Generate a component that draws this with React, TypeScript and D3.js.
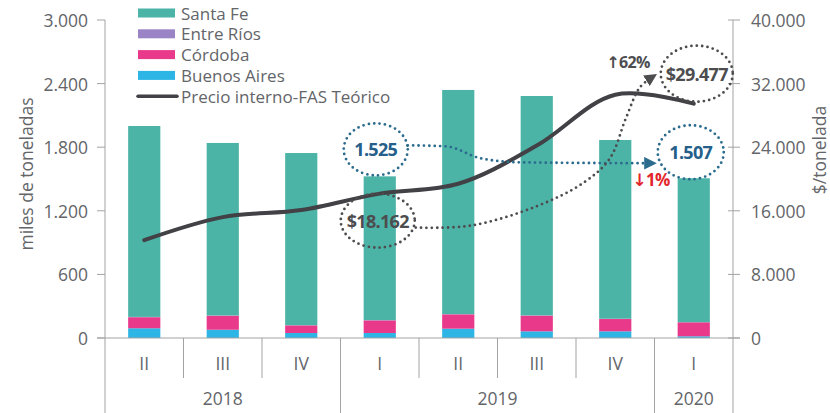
import { line, curveCatmullRom, curveMonotoneX, scaleBand, scaleLinear, stack } from 'd3'

const categories = ['2018-II', '2018-III', '2018-IV', '2019-I', '2019-II', '2019-III', '2019-IV', '2020-I']
const quarterLabels = ['II', 'III', 'IV', 'I', 'II', 'III', 'IV', 'I']
const years = [
	{ label: '2018', from: 0, to: 3 },
	{ label: '2019', from: 3, to: 7 },
	{ label: '2020', from: 7, to: 8 },
]

// miles de toneladas
const buenosAires = [92, 78, 47, 47, 88, 63, 63, 16]
const cordoba = [104, 132, 72, 119, 135, 148, 116, 132]
const entreRios = [3, 3, 2, 3, 3, 3, 3, 2]
const santaFe = [1801, 1627, 1624, 1356, 2114, 2069, 1686, 1357]

// $/tonelada
const precioFas = [12300, 15200, 16100, 18162, 19400, 24200, 30600, 29477]

const leftTicks = [0, 600, 1200, 1800, 2400, 3000]
const rightTicks = [0, 8000, 16000, 24000, 32000, 40000]

const series = [
	{ key: 'buenosAires', name: 'Buenos Aires', color: '#2db5e5' },
	{ key: 'cordoba', name: 'Córdoba', color: '#e8398b' },
	{ key: 'entreRios', name: 'Entre Ríos', color: '#9a84c6' },
	{ key: 'santaFe', name: 'Santa Fe', color: '#4cb4a7' },
]

const fmt = (v: number) => v.toLocaleString('de-DE')
const font = '"Open Sans", "DejaVu Sans", sans-serif'
const textGray = '#636569'
const axisGray = '#a3a3a3'

export default function App() {
	const width = 830
	const height = 413
	const left = 105
	const right = 733
	const top = 20
	const base = 338

	const x = scaleBand<string>().domain(categories).range([left, right]).padding(0)
	const bw = x.bandwidth()
	const barW = bw * 0.41
	const xc = (i: number) => (x(categories[i]) ?? 0) + bw / 2

	const yL = scaleLinear().domain([0, 3000]).range([base, top])
	const yR = scaleLinear().domain([0, 40000]).range([base, top])

	const rows = categories.map((c, i) => ({
		cat: c,
		buenosAires: buenosAires[i],
		cordoba: cordoba[i],
		entreRios: entreRios[i],
		santaFe: santaFe[i],
	}))
	const stacked = stack<any>().keys(series.map((s) => s.key))(rows)

	const priceLine = line<number>()
		.x((_, i) => xc(i))
		.y((d) => yR(d))
		.curve(curveCatmullRom.alpha(0.5))

	// anotaciones
	const totals = rows.map((r) => r.buenosAires + r.cordoba + r.entreRios + r.santaFe)
	const a1 = { cx: xc(3) - 4, cy: yL(totals[3]) - 27, rx: 32, ry: 26 }
	const a2 = { cx: xc(7) - 3, cy: yL(totals[7]) - 26, rx: 33, ry: 27 }
	const p1 = { cx: xc(3) - 2, cy: yR(precioFas[3]) + 27, rx: 37, ry: 27 }
	const p2 = { cx: xc(7) + 3, cy: yR(precioFas[7]) - 30, rx: 36, ry: 28 }

	const blue = '#2a6b8e'
	const gray = '#4d4d4f'

	const curvy = line<[number, number]>().curve(curveMonotoneX)
	const blueArrow = curvy([
		[a1.cx + a1.rx, a1.cy - 4],
		[a1.cx + 70, a1.cy - 3],
		[a1.cx + 105, a1.cy + 9],
		[a1.cx + 145, a1.cy + 13],
		[a2.cx - a2.rx - 6, a2.cy + 11],
	])
	const grayArrow = line<[number, number]>().curve(curveCatmullRom.alpha(0.5))([
		[p1.cx + p1.rx + 1, p1.cy + 7],
		[p1.cx + 93, p1.cy + 5],
		[p1.cx + 158, p1.cy - 14],
		[p1.cx + 206, p1.cy - 38],
		[p1.cx + 232, p1.cy - 62],
		[p1.cx + 248, p1.cy - 102],
		[p1.cx + 262, p1.cy - 133],
		[p2.cx - p2.rx - 8, p2.cy + 3],
	])

	const dotted = {
		fill: 'none',
		strokeWidth: 2.8,
		strokeDasharray: '0 5.4',
		strokeLinecap: 'round' as const,
	}

	const legend = [
		{ name: 'Santa Fe', color: '#4cb4a7' },
		{ name: 'Entre Ríos', color: '#9a84c6' },
		{ name: 'Córdoba', color: '#e8398b' },
		{ name: 'Buenos Aires', color: '#2db5e5' },
	]

	return (
		<svg
			width={width}
			height={height}
			style={{ position: 'absolute', left: 0, top: 0, background: '#fff', fontFamily: font }}
		>
			<defs>
				<marker id='arrBlue' viewBox='0 0 10 10' refX='6' refY='5' markerWidth='4.5' markerHeight='4.5' orient='auto' markerUnits='strokeWidth'>
					<path d='M0,0 L10,5 L0,10 z' fill={blue} />
				</marker>
				<marker id='arrGray' viewBox='0 0 10 10' refX='6' refY='5' markerWidth='4.5' markerHeight='4.5' orient='auto' markerUnits='strokeWidth'>
					<path d='M0,0 L10,5 L0,10 z' fill={gray} />
				</marker>
			</defs>

			{/* Barras apiladas */}
			{stacked.map((layer, li) => (
				<g key={layer.key} fill={series[li].color}>
					{layer.map((d, i) => (
						<rect
							key={i}
							x={xc(i) - barW / 2}
							width={barW}
							y={yL(d[1])}
							height={Math.max(0, yL(d[0]) - yL(d[1]))}
						/>
					))}
				</g>
			))}

			{/* Ejes */}
			<g stroke={axisGray} strokeWidth={1}>
				<line x1={left} x2={left} y1={top} y2={base} />
				<line x1={right} x2={right} y1={top} y2={base} />
				<line x1={left - 8} x2={right + 7} y1={base} y2={base} />
				{leftTicks.map((t) => (
					<line key={t} x1={left - 8} x2={left} y1={yL(t)} y2={yL(t)} />
				))}
				{rightTicks.map((t) => (
					<line key={t} x1={right - 5} x2={right + 7} y1={yR(t)} y2={yR(t)} />
				))}
				{categories.slice(1).map((c, i) => {
					const isYear = years.some((yy) => yy.from === i + 1)
					return <line key={c} x1={x(c)} x2={x(c)} y1={base} y2={isYear ? height : 378} />
				})}
				<line x1={left} x2={left} y1={base} y2={height} />
				<line x1={right} x2={right} y1={base} y2={height} />
			</g>

			<g fill={textGray} fontSize={17.5}>
				{leftTicks.map((t) => (
					<text key={t} x={left - 17} y={yL(t)} textAnchor='end' dominantBaseline='central'>
						{fmt(t)}
					</text>
				))}
				{rightTicks.map((t) => (
					<text key={t} x={right + 18} y={yR(t)} dominantBaseline='central'>
						{fmt(t)}
					</text>
				))}
				{quarterLabels.map((q, i) => (
					<text key={i} x={xc(i)} y={363} textAnchor='middle' dominantBaseline='central'>
						{q}
					</text>
				))}
				{years.map((yy) => (
					<text
						key={yy.label}
						x={((x(categories[yy.from]) ?? 0) + (yy.to < categories.length ? x(categories[yy.to]) ?? right : right)) / 2}
						y={398}
						textAnchor='middle'
						dominantBaseline='central'
					>
						{yy.label}
					</text>
				))}
				<text transform={`translate(26,174) rotate(-90)`} textAnchor='middle' dominantBaseline='central'>
					miles de toneladas
				</text>
				<text transform={`translate(819,150) rotate(-90)`} textAnchor='middle' dominantBaseline='central'>
					$/tonelada
				</text>
			</g>

			{/* Línea de precio */}
			<path d={priceLine(precioFas) ?? ''} fill='none' stroke='#414146' strokeWidth={4} strokeLinecap='round' />

			{/* Leyenda */}
			<g fontSize={17} fill={textGray}>
				{legend.map((l, i) => (
					<g key={l.name} transform={`translate(138,${13 + i * 20.8})`}>
						<rect x={0} y={-4.5} width={37} height={9} fill={l.color} />
						<text x={43} y={0} dominantBaseline='central'>
							{l.name}
						</text>
					</g>
				))}
				<g transform={`translate(138,${13 + 4 * 20.8})`}>
					<line x1={0} x2={39} y1={0} y2={0} stroke='#414146' strokeWidth={3.5} strokeLinecap='round' />
					<text x={43} y={0} dominantBaseline='central'>
						Precio interno-FAS Teórico
					</text>
				</g>
			</g>

			{/* Anotaciones */}
			<path d={blueArrow ?? ''} {...dotted} stroke={blue} markerEnd='url(#arrBlue)' />
			<path d={grayArrow ?? ''} {...dotted} stroke={gray} markerEnd='url(#arrGray)' />
			<ellipse cx={a1.cx} cy={a1.cy} rx={a1.rx} ry={a1.ry} {...dotted} stroke={blue} />
			<ellipse cx={a2.cx} cy={a2.cy} rx={a2.rx} ry={a2.ry} {...dotted} stroke={blue} />
			<ellipse cx={p1.cx} cy={p1.cy} rx={p1.rx} ry={p1.ry} {...dotted} stroke={gray} />
			<ellipse cx={p2.cx} cy={p2.cy} rx={p2.rx} ry={p2.ry} {...dotted} stroke={gray} />

			<g fontWeight={700} fontSize={18} textAnchor='middle' dominantBaseline='central' letterSpacing={-0.7}>
				<text x={a1.cx} y={a1.cy} fill='#24608a'>
					{fmt(totals[3])}
				</text>
				<text x={a2.cx} y={a2.cy} fill='#24608a'>
					{fmt(totals[7])}
				</text>
				<text x={p1.cx} y={p1.cy} fill={gray}>
					${fmt(precioFas[3])}
				</text>
				<text x={p2.cx} y={p2.cy} fill={gray}>
					${fmt(precioFas[7])}
				</text>
				<text x={628} y={62} fontSize={16} fill={gray}>
					↑62%
				</text>
				<text x={651} y={179} fontSize={17} fill='#e3262c'>
					↓1%
				</text>
			</g>
		</svg>
	)
}
